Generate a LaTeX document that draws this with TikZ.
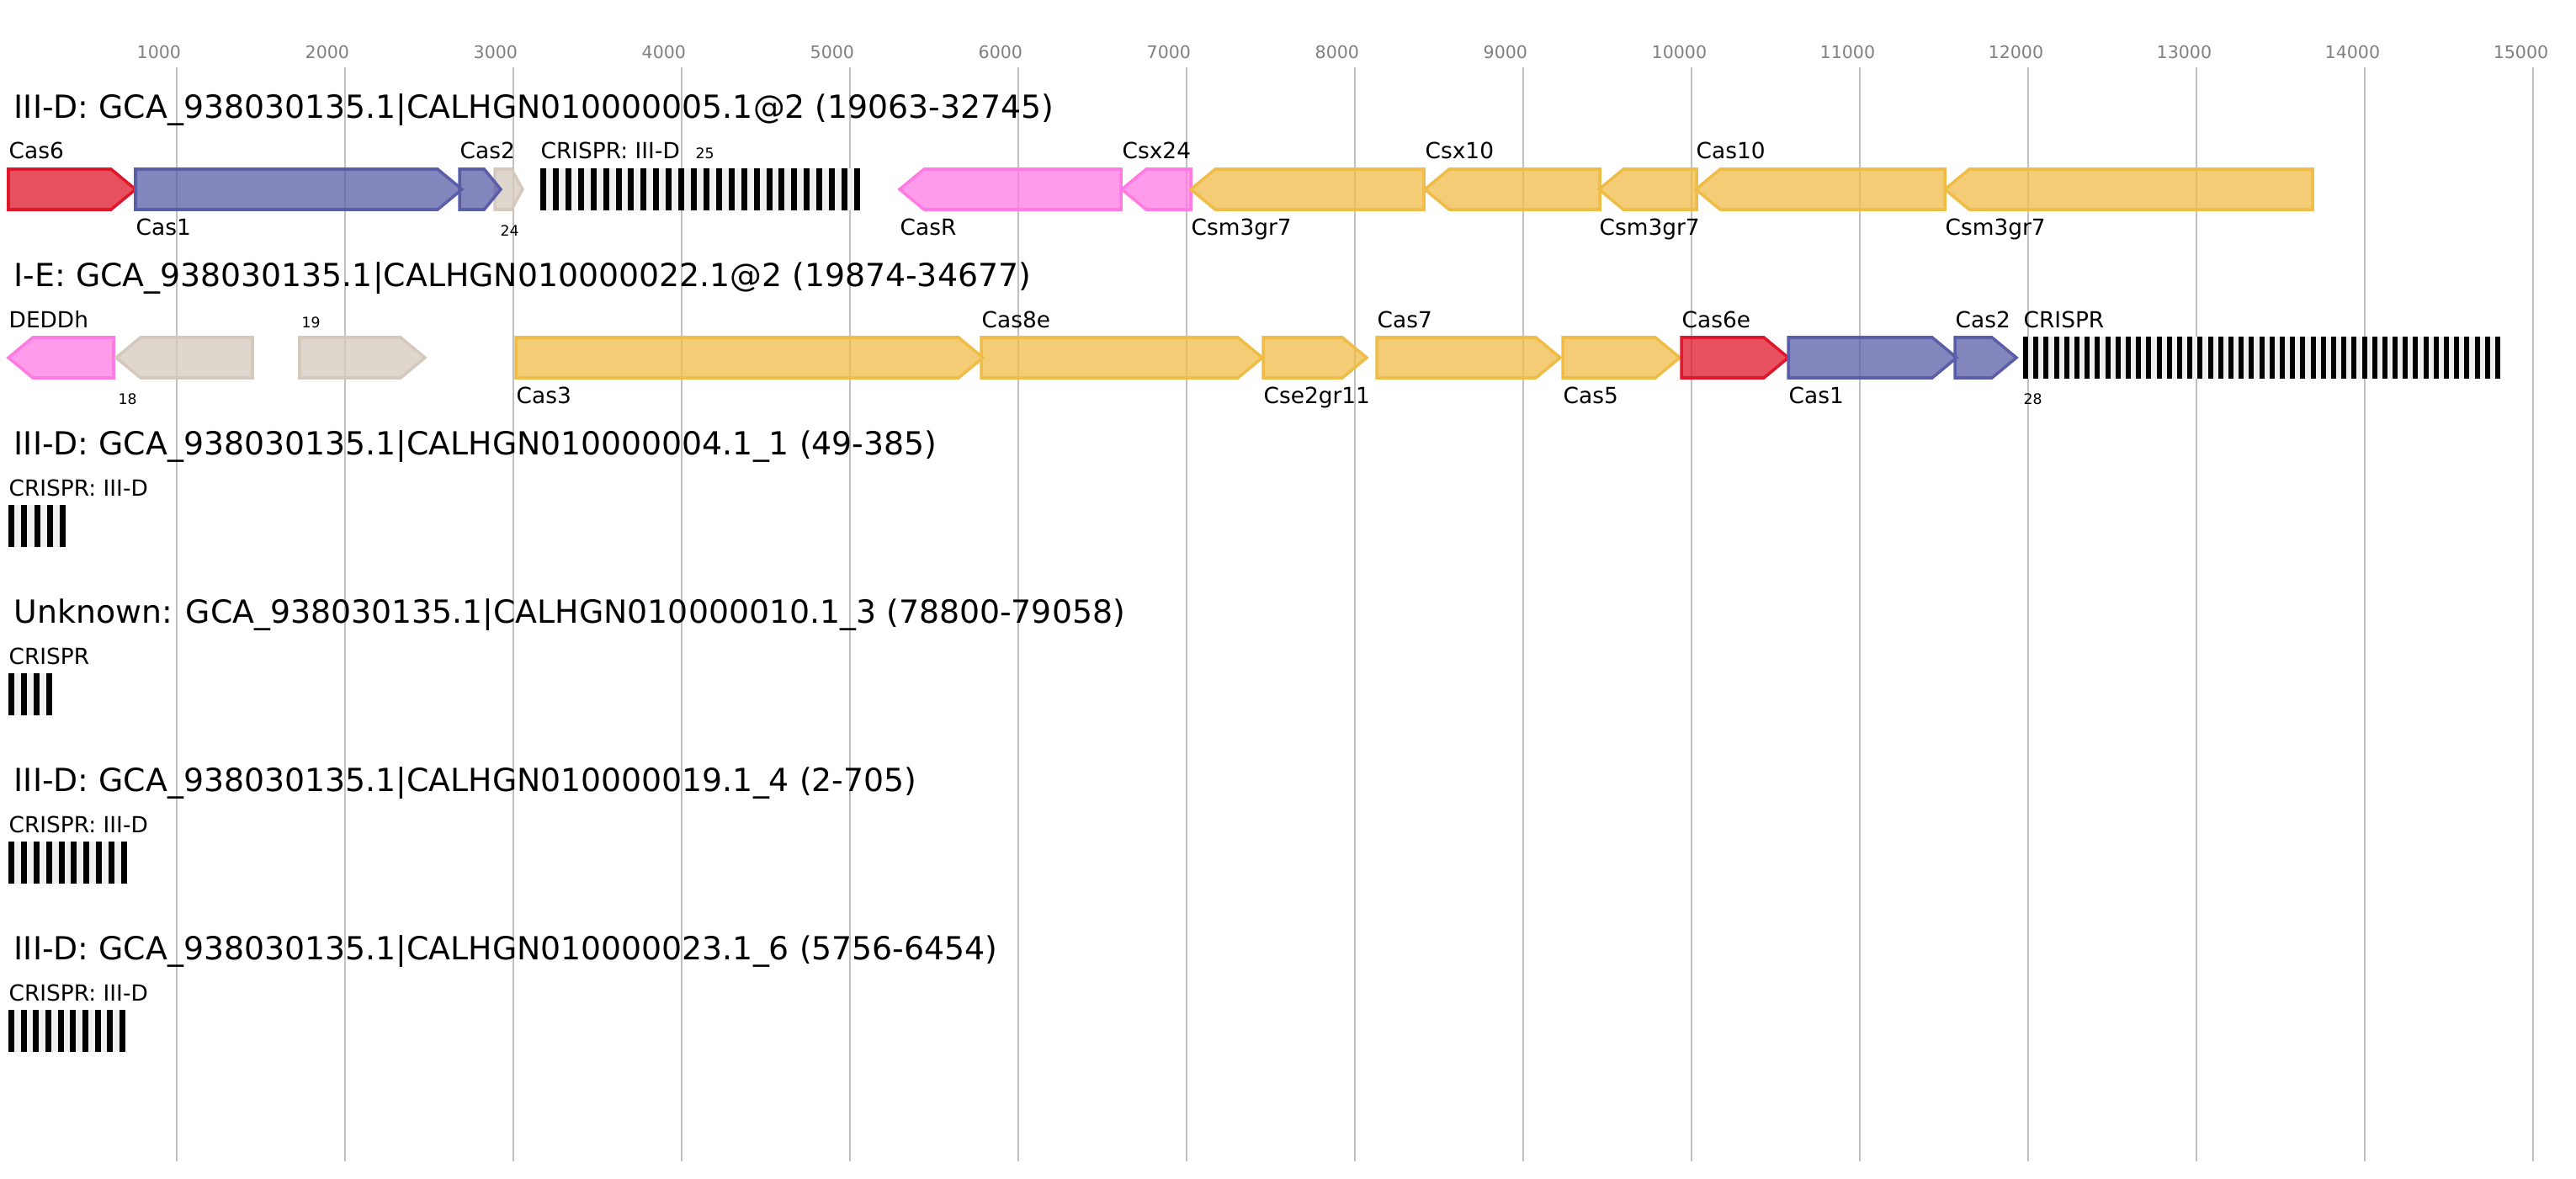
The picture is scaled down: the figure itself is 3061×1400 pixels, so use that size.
\documentclass[tikz,border=0pt]{standalone}
\usepackage{fontspec}
\setmainfont{DejaVu Sans}
\definecolor{casred}{HTML}{E0172A}
\definecolor{casblue}{HTML}{5A5EA8}
\definecolor{caspink}{HTML}{FF7AE3}
\definecolor{casyellow}{HTML}{EFBC48}
\definecolor{casgray}{HTML}{D5C9BE}
\definecolor{gridgray}{HTML}{BFBFBF}
\definecolor{spacergray}{HTML}{F0F0F0}
\definecolor{axisgray}{HTML}{808080}
\tikzstyle{gene} = [line width=1pt,line join=miter,fill opacity=0.75]
\tikzstyle{redgene} = [gene,draw=casred,fill=casred]
\tikzstyle{bluegene} = [gene,draw=casblue,fill=casblue]
\tikzstyle{pinkgene} = [gene,draw=caspink,fill=caspink]
\tikzstyle{yellowgene} = [gene,draw=casyellow,fill=casyellow]
\tikzstyle{graygene} = [gene,draw=casgray,fill=casgray]
\tikzstyle{gridline} = [draw=gridgray,line width=0.5pt]
\tikzstyle{locustitle} = [font=\fontsize{10.75}{12}\selectfont,inner sep=0pt,anchor=base west]
\tikzstyle{genelabel} = [font=\fontsize{7.5}{8}\selectfont,inner sep=0pt,anchor=base west]
\tikzstyle{numlabel} = [font=\fontsize{4.9}{5}\selectfont,inner sep=0pt,anchor=base west]
\tikzstyle{axislabel} = [font=\fontsize{5.85}{7}\selectfont,text=axisgray,inner sep=0pt,anchor=base west]
% gene arrows: start, end, row centre, style
\newcommand{\genefwd}[4]{%
  \pgfmathsetmacro{\headlen}{min(29,0.4*(#2-#1))}
  \draw[#4] (#1,#3-24) -- ({#2-\headlen},#3-24) -- (#2,#3) -- ({#2-\headlen},#3+24) -- (#1,#3+24) -- cycle;}
\newcommand{\generev}[4]{%
  \pgfmathsetmacro{\headlen}{min(29,0.4*(#2-#1))}
  \draw[#4] (#1,#3) -- ({#1+\headlen},#3-24) -- (#2,#3-24) -- (#2,#3+24) -- ({#1+\headlen},#3+24) -- cycle;}
% repeat arrays: start, end, row centre, repeats, bar width
\newcommand{\crisprarray}[5]{%
  \fill[spacergray] (#1,#3-25) rectangle (#2,#3+25);
  \pgfmathsetmacro{\barstep}{(#2-#1-#5)/(#4-1)}
  \foreach \b in {1,...,#4}
    \fill[black] ({#1+(\b-1)*\barstep},#3-25) rectangle ++(#5,50);}

\begin{document}
\begin{tikzpicture}[x=0.01cm,y=-0.01cm]
	\useasboundingbox (0,0) rectangle (3061,1400);
	\fill[white] (0,0) rectangle (3061,1400);
	
	\foreach \k in {1,...,15} {
		\draw[gridline] (10+200*\k,80) -- (10+200*\k,1380);
		\node[axislabel] (ax\k) at (200*\k-38,70) {\k000};
	}
	
	% III-D, contig 5
	\node[locustitle] (t1) at (16,140) {III-D: GCA\_938030135.1|CALHGN010000005.1@2 (19063-32745)};
	\genefwd{10}{161}{225}{redgene}
	\genefwd{161}{549}{225}{bluegene}
	\genefwd{588}{621}{225}{graygene}
	\genefwd{546}{595}{225}{bluegene}
	\crisprarray{642}{1022}{225}{26}{7}
	\generev{1069}{1332}{225}{pinkgene}
	\generev{1333}{1415}{225}{pinkgene}
	\generev{1415}{1692}{225}{yellowgene}
	\generev{1693}{1901}{225}{yellowgene}
	\generev{1900}{2016}{225}{yellowgene}
	\generev{2015}{2311}{225}{yellowgene}
	\generev{2311}{2748}{225}{yellowgene}
	\node[genelabel] (cas6a) at (10,189) {Cas6};
	\node[genelabel] (cas1a) at (161,279) {Cas1};
	\node[genelabel] (cas2a) at (546,189) {Cas2};
	\node[numlabel] (n24) at (594,280) {24};
	\node[genelabel] (cra) at (642,189) {CRISPR: III-D};
	\node[numlabel] (n25) at (826,189) {25};
	\node[genelabel] (casr) at (1069,279) {CasR};
	\node[genelabel] (csx24) at (1333,189) {Csx24};
	\node[genelabel] (csm3a) at (1415,279) {Csm3gr7};
	\node[genelabel] (csx10) at (1693,189) {Csx10};
	\node[genelabel] (csm3b) at (1900,279) {Csm3gr7};
	\node[genelabel] (cas10) at (2015,189) {Cas10};
	\node[genelabel] (csm3c) at (2311,279) {Csm3gr7};
	
	% I-E, contig 22
	\node[locustitle] (t2) at (16,340) {I-E: GCA\_938030135.1|CALHGN010000022.1@2 (19874-34677)};
	\generev{10}{135}{425}{pinkgene}
	\generev{138}{300}{425}{graygene}
	\genefwd{356}{505}{425}{graygene}
	\genefwd{613}{1168}{425}{yellowgene}
	\genefwd{1166}{1500}{425}{yellowgene}
	\genefwd{1501}{1624}{425}{yellowgene}
	\genefwd{1636}{1854}{425}{yellowgene}
	\genefwd{1857}{1996}{425}{yellowgene}
	\genefwd{1998}{2125}{425}{redgene}
	\genefwd{2125}{2325}{425}{bluegene}
	\genefwd{2323}{2396}{425}{bluegene}
	\crisprarray{2404}{2971}{425}{47}{6}
	\node[genelabel] (deddh) at (10,389) {DEDDh};
	\node[numlabel] (n18) at (140,480) {18};
	\node[numlabel] (n19) at (358,389) {19};
	\node[genelabel] (cas3) at (613,479) {Cas3};
	\node[genelabel] (cas8e) at (1166,389) {Cas8e};
	\node[genelabel] (cse2) at (1501,479) {Cse2gr11};
	\node[genelabel] (cas7) at (1636,389) {Cas7};
	\node[genelabel] (cas5) at (1857,479) {Cas5};
	\node[genelabel] (cas6e) at (1998,389) {Cas6e};
	\node[genelabel] (cas1b) at (2125,479) {Cas1};
	\node[genelabel] (cas2b) at (2323,389) {Cas2};
	\node[genelabel] (crb) at (2404,389) {CRISPR};
	\node[numlabel] (n28) at (2404,480) {28};
	
	% lone arrays
	\node[locustitle] (t3) at (16,540) {III-D: GCA\_938030135.1|CALHGN010000004.1\_1 (49-385)};
	\crisprarray{10}{78}{625}{5}{7}
	\node[genelabel] (crc) at (10,589) {CRISPR: III-D};
	
	\node[locustitle] (t4) at (16,740) {Unknown: GCA\_938030135.1|CALHGN010000010.1\_3 (78800-79058)};
	\crisprarray{10}{62}{825}{4}{7}
	\node[genelabel] (crd) at (10,789) {CRISPR};
	
	\node[locustitle] (t5) at (16,940) {III-D: GCA\_938030135.1|CALHGN010000019.1\_4 (2-705)};
	\crisprarray{10}{151}{1025}{10}{7}
	\node[genelabel] (cre) at (10,989) {CRISPR: III-D};
	
	\node[locustitle] (t6) at (16,1140) {III-D: GCA\_938030135.1|CALHGN010000023.1\_6 (5756-6454)};
	\crisprarray{10}{149}{1225}{10}{7}
	\node[genelabel] (crf) at (10,1189) {CRISPR: III-D};
\end{tikzpicture}
\end{document}
